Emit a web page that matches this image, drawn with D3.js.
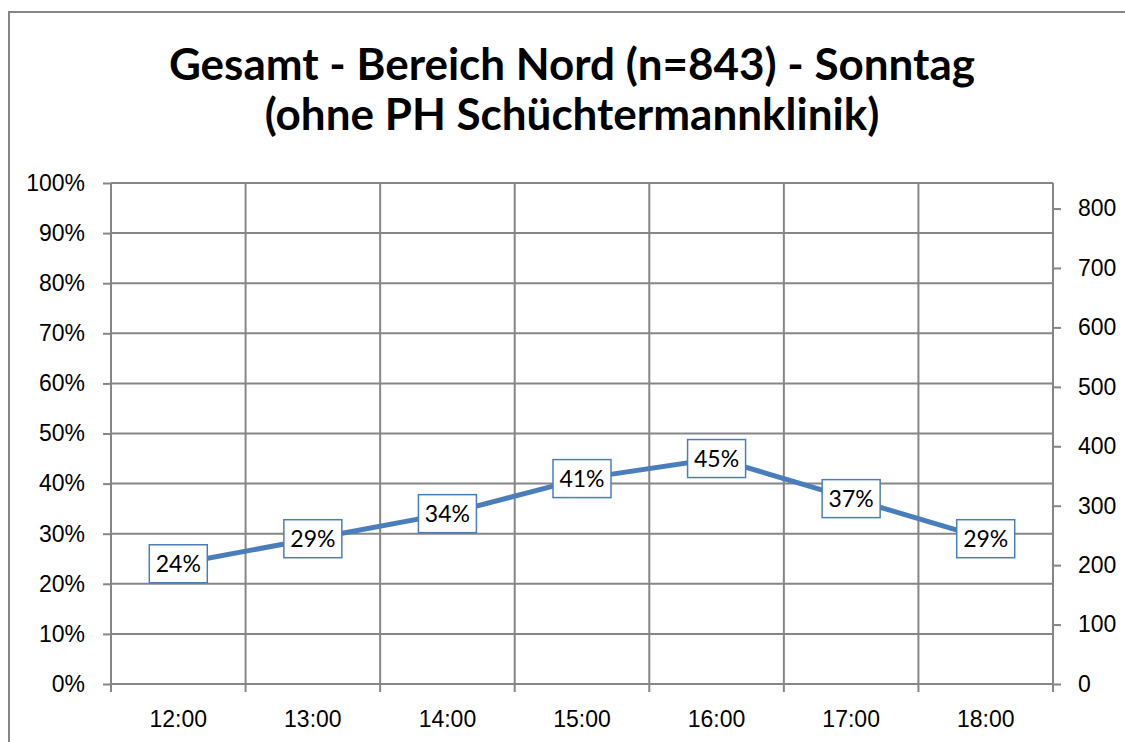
<!DOCTYPE html>
<html>
<head>
<meta charset="utf-8">
<script src="https://cdn.jsdelivr.net/npm/d3@7"></script>
<style>
  body { margin: 0; background: #fff; }
  svg { display: block; font-family: Lato, "Open Sans", sans-serif; }
  .axis path { display: none; }
  .axis line { stroke: #868686; stroke-width: 2; }
  .axis text { fill: #000; font-size: 23px; }
</style>
</head>
<body>
<svg id="chart" width="1125" height="742"></svg>
<script>
// chart data
const hours = ['12:00', '13:00', '14:00', '15:00', '16:00', '17:00', '18:00'];
const share = [0.24, 0.29, 0.34, 0.41, 0.45, 0.37, 0.29];
const leftTicks = [0, 0.1, 0.2, 0.3, 0.4, 0.5, 0.6, 0.7, 0.8, 0.9, 1];
const rightTicks = [0, 100, 200, 300, 400, 500, 600, 700, 800];
const total = 843;
const titleLines = ['Gesamt - Bereich Nord (n=843) - Sonntag', '(ohne PH Schüchtermannklinik)'];

const svg = d3.select('#chart');
const margin = { top: 183, right: 72, bottom: 58, left: 111 };
const width = 1125 - margin.left - margin.right,
  height = 742 - margin.top - margin.bottom;

// outer chart border (runs off right/bottom like the screenshot)
svg.append('rect')
  .attr('x', 9).attr('y', 12)
  .attr('width', 1130).attr('height', 740)
  .attr('fill', 'none')
  .attr('stroke', '#868686')
  .attr('stroke-width', 2);

svg.append('g').selectAll('text')
  .data(titleLines)
  .enter()
  .append('text')
  .attr('x', 572)
  .attr('y', (d, i) => 80 + i * 50)
  .attr('text-anchor', 'middle')
  .attr('font-size', 44)
  .attr('font-weight', 'bold')
  .text((d) => d);

const g = svg.append('g')
  .attr('transform', `translate(${margin.left},${margin.top})`);

const x = d3.scaleBand().domain(hours).range([0, width]);
const y = d3.scaleLinear().domain([0, 1]).range([height, 0]);
const y2 = d3.scaleLinear().domain([0, total]).range([height, 0]);

// horizontal gridlines
g.append('g')
  .selectAll('line')
  .data(leftTicks)
  .enter()
  .append('line')
  .attr('x1', 0).attr('x2', width)
  .attr('y1', (d) => y(d)).attr('y2', (d) => y(d))
  .attr('stroke', '#868686')
  .attr('stroke-width', 2);

// vertical gridlines at category boundaries
const bounds = hours.map((h) => x(h)).concat([width]);
g.append('g')
  .selectAll('line')
  .data(bounds)
  .enter()
  .append('line')
  .attr('x1', (d) => d).attr('x2', (d) => d)
  .attr('y1', 0).attr('y2', height + 8)
  .attr('stroke', '#868686')
  .attr('stroke-width', 2);

g.append('g')
  .attr('class', 'axis')
  .call(d3.axisLeft(y).tickValues(leftTicks).tickFormat(d3.format('.0%')).tickSize(8).tickPadding(18));

g.append('g')
  .attr('class', 'axis')
  .attr('transform', `translate(${width},0)`)
  .call(d3.axisRight(y2).tickValues(rightTicks).tickSize(8).tickPadding(17));

g.append('g')
  .attr('class', 'axis')
  .attr('transform', `translate(0,${height})`)
  .call(d3.axisBottom(x).tickSize(0).tickPadding(27));

const line = d3.line()
  .x((d, i) => x(hours[i]) + x.bandwidth() / 2)
  .y((d) => y(d));

g.append('path')
  .datum(share)
  .attr('d', line)
  .attr('fill', 'none')
  .attr('stroke', '#4a7ebb')
  .attr('stroke-width', 5);

const labels = g.append('g')
  .selectAll('g')
  .data(share)
  .enter()
  .append('g')
  .attr('transform', (d, i) => `translate(${x(hours[i]) + x.bandwidth() / 2},${y(d)})`);

labels.append('rect')
  .attr('x', -29).attr('y', -19)
  .attr('width', 58).attr('height', 38)
  .attr('fill', '#fff')
  .attr('stroke', '#4a7ebb')
  .attr('stroke-width', 1.5);

labels.append('text')
  .attr('text-anchor', 'middle')
  .attr('dy', '0.36em')
  .attr('font-size', 23)
  .text((d) => d3.format('.0%')(d));
</script>
</body>
</html>
